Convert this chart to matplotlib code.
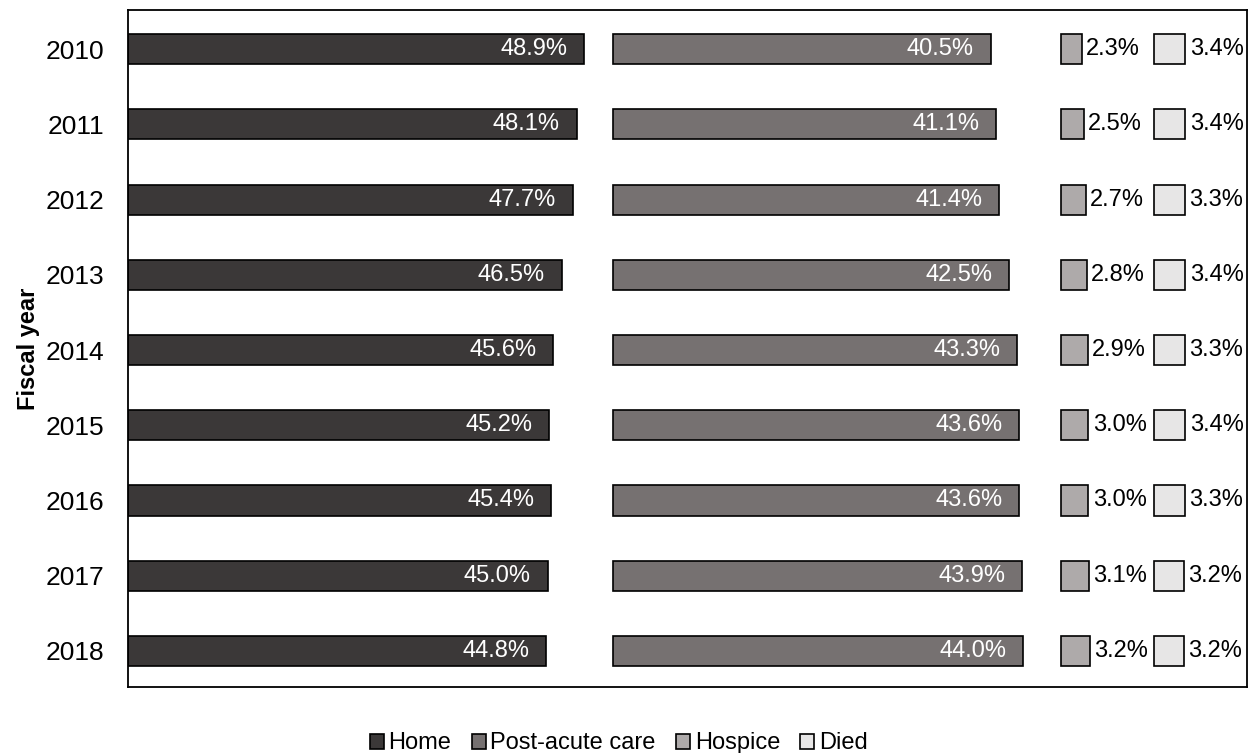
import matplotlib.pyplot as plt
from matplotlib.patches import Patch

plt.rcParams['font.family'] = ['Liberation Sans', 'DejaVu Sans']

years = ['2010', '2011', '2012', '2013', '2014', '2015', '2016', '2017', '2018']
home = [48.9, 48.1, 47.7, 46.5, 45.6, 45.2, 45.4, 45.0, 44.8]
post_acute = [40.5, 41.1, 41.4, 42.5, 43.3, 43.6, 43.6, 43.9, 44.0]
hospice = [2.3, 2.5, 2.7, 2.8, 2.9, 3.0, 3.0, 3.1, 3.2]
died = [3.4, 3.4, 3.3, 3.4, 3.3, 3.4, 3.3, 3.2, 3.2]

series = [
    ('Home', home, 0, '#3b3838'),
    ('Post-acute care', post_acute, 52, '#767171'),
    ('Hospice', hospice, 100, '#aeaaaa'),
    ('Died', died, 110, '#e7e6e6'),
]

fig = plt.figure(figsize=(12.5, 7.53), dpi=100)
ax = fig.add_axes([0.1024, 0.0876, 0.8952, 0.8991])

ypos = list(range(len(years)))
handles = []
for name, vals, start, color in series:
    bars = ax.barh(ypos, vals, left=start, height=0.4, color=color,
                   edgecolor='black', linewidth=1.2)
    for bar, v in zip(bars, vals):
        end = bar.get_x() + bar.get_width()
        yc = bar.get_y() + bar.get_height() / 2
        if start < 100:
            # big bars: white label inside the end
            ax.annotate(f'{v:.1f}%', (end, yc), xytext=(-12, 0),
                        textcoords='offset points', ha='right', va='center',
                        color='white', fontsize=17)
        else:
            ax.annotate(f'{v:.1f}%', (end, yc), xytext=(3, 0),
                        textcoords='offset points', ha='left', va='center',
                        color='black', fontsize=17)
    handles.append(Patch(facecolor=color, edgecolor='black', linewidth=1.2,
                         label=name))

ax.set_xlim(0, 120)
ax.set_ylim(len(years) - 0.52, -0.52)
ax.set_yticks(ypos)
ax.set_yticklabels(years, fontsize=19)
ax.set_xticks([])
ax.tick_params(axis='y', length=0, pad=17)
for sp in ax.spines.values():
    sp.set_linewidth(1.3)
ax.set_ylabel('Fiscal year', fontsize=17, fontweight='bold', labelpad=4)

fig.legend(handles=handles, loc='lower center', bbox_to_anchor=(0.495, -0.03),
           ncol=4, frameon=False, fontsize=17, handlelength=0.6,
           handleheight=0.6, handletextpad=0.2, columnspacing=0.85)

fig.savefig('out.png', dpi=100)
